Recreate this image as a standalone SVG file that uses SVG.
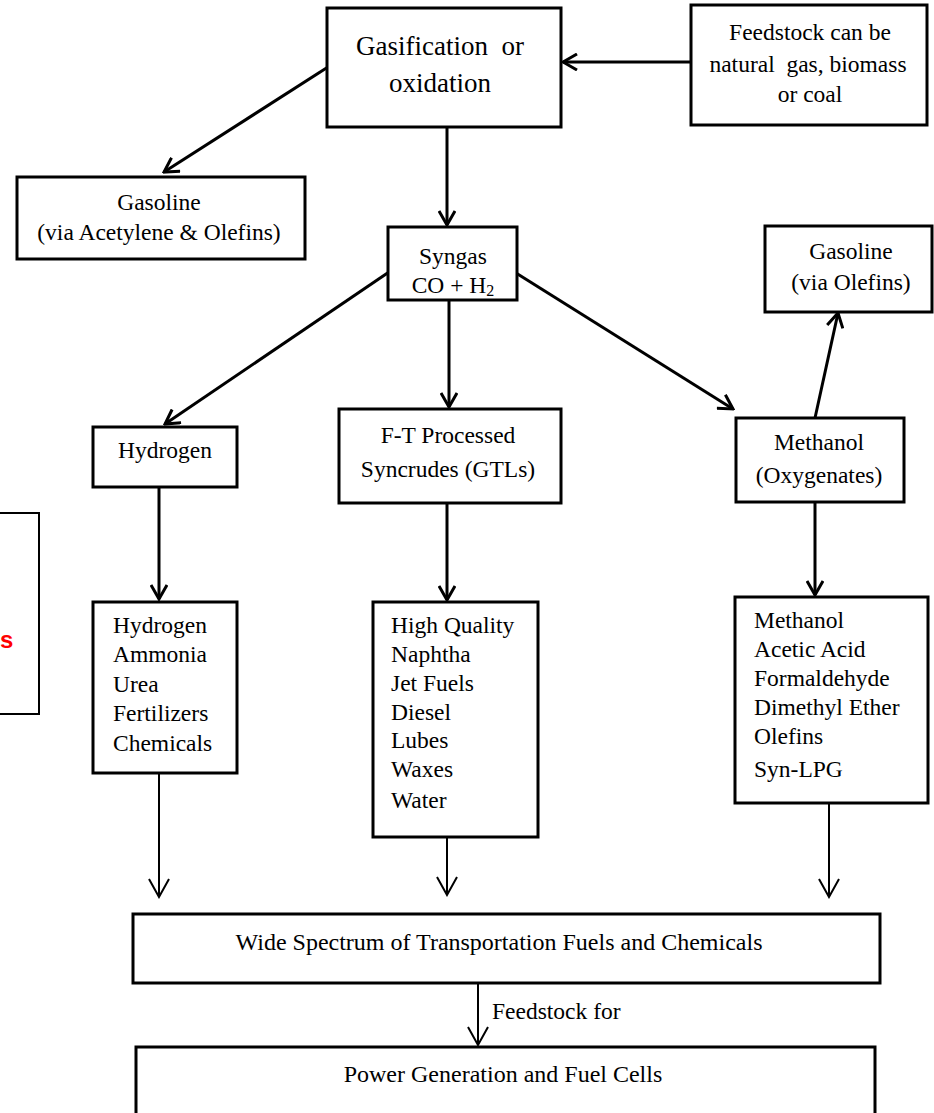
<svg xmlns="http://www.w3.org/2000/svg" width="934" height="1113" viewBox="0 0 934 1113">
<defs>
<style>
.box{fill:#fff;stroke:#000;stroke-width:3}
.c{text-anchor:middle}
.con{stroke:#000;stroke-width:3;fill:none}
.thin{stroke:#000;stroke-width:2;fill:none}
</style>
<marker id="arr" viewBox="0 0 18 18" refX="16" refY="9" markerWidth="18" markerHeight="18" markerUnits="userSpaceOnUse" orient="auto">
<path d="M2,1 L16,9 L2,17" fill="none" stroke="#000" stroke-width="3"/>
</marker>
<marker id="arr2" viewBox="0 0 22 22" refX="20" refY="11" markerWidth="22" markerHeight="22" markerUnits="userSpaceOnUse" orient="auto">
<path d="M2,1 L20,11 L2,21" fill="none" stroke="#000" stroke-width="2"/>
</marker>
</defs>
<rect width="934" height="1113" fill="#fff"/>

<g font-family="Liberation Serif, DejaVu Serif, serif" font-size="23.5" fill="#000">

<g id="connectors">
<line class="con" x1="691" y1="62" x2="563" y2="62" marker-end="url(#arr)"/>
<line class="con" x1="328" y1="67" x2="164" y2="172" marker-end="url(#arr)"/>
<line class="con" x1="447" y1="127" x2="447" y2="225" marker-end="url(#arr)"/>
<line class="con" x1="389" y1="272" x2="165" y2="424" marker-end="url(#arr)"/>
<line class="con" x1="449" y1="300" x2="449" y2="407" marker-end="url(#arr)"/>
<line class="con" x1="516" y1="273" x2="733" y2="409" marker-end="url(#arr)"/>
<line class="con" x1="815" y1="418" x2="838" y2="313" marker-end="url(#arr)"/>
<line class="con" x1="159" y1="487" x2="159" y2="599" marker-end="url(#arr)"/>
<line class="con" x1="447" y1="503" x2="447" y2="600" marker-end="url(#arr)"/>
<line class="con" x1="815" y1="502" x2="815" y2="595" marker-end="url(#arr)"/>
<line class="thin" x1="159" y1="773" x2="159" y2="897" marker-end="url(#arr2)"/>
<line class="thin" x1="447" y1="837" x2="447" y2="895" marker-end="url(#arr2)"/>
<line class="thin" x1="829" y1="803" x2="829" y2="897" marker-end="url(#arr2)"/>
<line class="thin" x1="478" y1="983" x2="478" y2="1045" marker-end="url(#arr2)"/>
<text x="492" y="1019">Feedstock for</text>
</g>

<g id="partial">
<rect x="-10" y="513" width="49" height="201" fill="#fff" stroke="#000" stroke-width="2"/>
<text x="0" y="648" font-family="Liberation Sans, Arial, sans-serif" font-weight="bold" font-size="24" fill="#ff0000">s</text>
</g>

<g id="gasification">
<rect class="box" x="327" y="8" width="234" height="119"/>
<text class="c" x="440" y="55" font-size="27" xml:space="preserve">Gasification  or</text>
<text class="c" x="440" y="92" font-size="27">oxidation</text>
</g>

<g id="feedstock">
<rect class="box" x="691" y="5" width="236" height="120"/>
<text class="c" x="810" y="40">Feedstock can be</text>
<text class="c" x="808" y="72" xml:space="preserve">natural  gas, biomass</text>
<text class="c" x="810" y="102">or coal</text>
</g>

<g id="gasoline-acetylene">
<rect class="box" x="17" y="177" width="288" height="82"/>
<text class="c" x="159" y="210">Gasoline</text>
<text class="c" x="159" y="240">(via Acetylene &amp; Olefins)</text>
</g>

<g id="syngas">
<rect class="box" x="388" y="227" width="129" height="73"/>
<text class="c" x="453" y="264">Syngas</text>
<text class="c" x="453" y="293">CO + H<tspan font-size="16" dy="3">2</tspan></text>
</g>

<g id="gasoline-olefins">
<rect class="box" x="765" y="226" width="167" height="86"/>
<text class="c" x="851" y="259">Gasoline</text>
<text class="c" x="851" y="290">(via Olefins)</text>
</g>

<g id="hydrogen">
<rect class="box" x="93" y="427" width="144" height="60"/>
<text class="c" x="165" y="458">Hydrogen</text>
</g>

<g id="ft">
<rect class="box" x="339" y="409" width="222" height="94"/>
<text class="c" x="448" y="443">F-T Processed</text>
<text class="c" x="448" y="477">Syncrudes (GTLs)</text>
</g>

<g id="methanol">
<rect class="box" x="736" y="418" width="168" height="84"/>
<text class="c" x="819" y="450">Methanol</text>
<text class="c" x="819" y="483">(Oxygenates)</text>
</g>

<g id="hydrogen-list">
<rect class="box" x="93" y="602" width="144" height="171"/>
<text x="113" y="633">Hydrogen</text>
<text x="113" y="662">Ammonia</text>
<text x="113" y="692">Urea</text>
<text x="113" y="721">Fertilizers</text>
<text x="113" y="751">Chemicals</text>
</g>

<g id="ft-list">
<rect class="box" x="373" y="602" width="165" height="235"/>
<text x="391" y="633">High Quality</text>
<text x="391" y="662">Naphtha</text>
<text x="391" y="691">Jet Fuels</text>
<text x="391" y="720">Diesel</text>
<text x="391" y="748">Lubes</text>
<text x="391" y="777">Waxes</text>
<text x="391" y="808">Water</text>
</g>

<g id="methanol-list">
<rect class="box" x="735" y="597" width="193" height="206"/>
<text x="754" y="628">Methanol</text>
<text x="754" y="657">Acetic Acid</text>
<text x="754" y="686">Formaldehyde</text>
<text x="754" y="715">Dimethyl Ether</text>
<text x="754" y="744">Olefins</text>
<text x="754" y="777">Syn-LPG</text>
</g>

<g id="wide">
<rect class="box" x="133" y="914" width="747" height="69"/>
<text class="c" x="499" y="950" font-size="24">Wide Spectrum of Transportation Fuels and Chemicals</text>
</g>

<g id="power">
<rect class="box" x="136" y="1047" width="739" height="80"/>
<text class="c" x="503" y="1082" font-size="24">Power Generation and Fuel Cells</text>
</g>

</g>
</svg>
